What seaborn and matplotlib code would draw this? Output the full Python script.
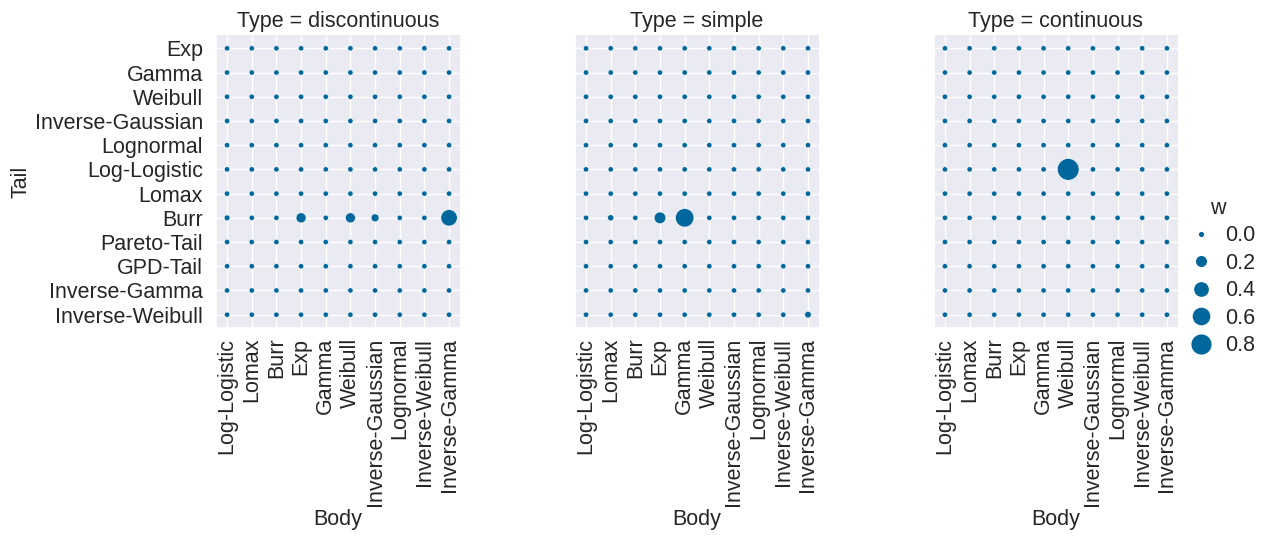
import numpy as np
import pandas as pd
import seaborn as sns
import matplotlib.pyplot as plt

# categories
types = ['discontinuous', 'simple', 'continuous']
body = ['Log-Logistic', 'Lomax', 'Burr', 'Exp', 'Gamma', 'Weibull',
        'Inverse-Gaussian', 'Lognormal', 'Inverse-Weibull', 'Inverse-Gamma']
tail = ['Exp', 'Gamma', 'Weibull', 'Inverse-Gaussian', 'Lognormal', 'Log-Logistic',
        'Lomax', 'Burr', 'Pareto-Tail', 'GPD-Tail', 'Inverse-Gamma', 'Inverse-Weibull']

# non-zero weights: (type, tail, body, w)
nz_type = ['discontinuous', 'discontinuous', 'discontinuous', 'discontinuous', 'discontinuous',
           'simple', 'simple', 'simple', 'simple',
           'continuous']
nz_tail = ['Burr', 'Burr', 'Burr', 'Burr', 'Burr',
           'Burr', 'Burr', 'Burr', 'Inverse-Weibull',
           'Log-Logistic']
nz_body = ['Exp', 'Weibull', 'Inverse-Gaussian', 'Inverse-Gamma', 'Log-Logistic',
           'Exp', 'Gamma', 'Lomax', 'Inverse-Gamma',
           'Weibull']
nz_w = [0.15, 0.15, 0.07, 0.50, 0.01,
        0.22, 0.65, 0.02, 0.03,
        0.92]

rows = []
for t in types:
    for tl in tail:
        for b in body:
            rows.append({'Type': t, 'Tail': tl, 'Body': b, 'w': 0.0})
df = pd.DataFrame(rows)
for t, tl, b, w in zip(nz_type, nz_tail, nz_body, nz_w):
    df.loc[(df.Type == t) & (df.Tail == tl) & (df.Body == b), 'w'] = w

sns.set_theme(style='darkgrid')
plt.rcParams['font.family'] = ['Liberation Sans', 'DejaVu Sans']
for k in ['font.size', 'axes.labelsize', 'axes.titlesize', 'xtick.labelsize',
          'ytick.labelsize', 'legend.fontsize', 'legend.title_fontsize']:
    plt.rcParams[k] = 15.5
plt.rcParams['xtick.major.pad'] = 1
plt.rcParams['axes.labelpad'] = 2

g = sns.relplot(data=df, x='Body', y='Tail', col='Type', size='w',
                sizes=(14, 240), color='#00679d', kind='scatter', height=4, aspect=0.8)
g.figure.set_size_inches(12.71, 5.38)
g.figure.subplots_adjust(left=216/1271, right=1178/1271, bottom=1-328/538,
                         top=1-35/538, wspace=0.47)
for ax in g.axes.flat:
    ax.tick_params(axis='x', rotation=90)
sns.move_legend(g, 'center left', bbox_to_anchor=(0.913, 0.485), frameon=False,
                handletextpad=0.1, labelspacing=0.3)
plt.savefig('out.png', dpi=100)
